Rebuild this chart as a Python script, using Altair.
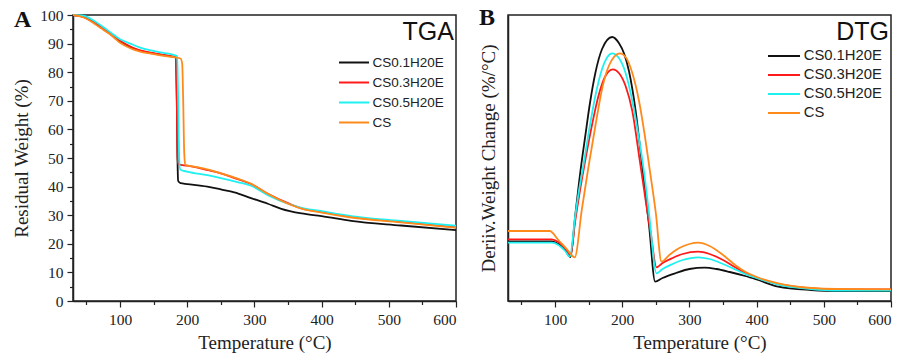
import altair as alt
import pandas as pd

series = ["CS0.1H20E", "CS0.3H20E", "CS0.5H20E", "CS"]
colors = ["#111111", "#ff1a1a", "#1ff0f0", "#ff8a1c"]

# ---- TGA (Residual weight %) ----
tga_t_01 = [30, 45, 57, 70, 86.5, 100, 116, 130, 146, 160, 176, 183, 184.5, 185.5, 186.5, 190, 200, 230, 250, 270, 295, 320, 340, 370, 400, 444, 518, 600]
tga_w_01 = [100, 99.4, 98, 96, 93.2, 90.8, 88.7, 87.5, 86.7, 86.1, 85.5, 85.1, 70, 50, 42, 41.2, 40.9, 40, 39, 38, 36, 34, 32.2, 30.6, 29.7, 28, 26.4, 24.8]
tga_t_03 = [30, 45, 57, 70, 86.5, 100, 116, 130, 146, 160, 176, 183, 184.5, 185.5, 187, 200, 230, 250, 275, 295, 320, 350, 370, 400, 444, 518, 600]
tga_w_03 = [100, 99.4, 98, 96, 93.3, 91, 88.9, 87.6, 86.8, 86.2, 85.6, 85.1, 70, 50, 47.8, 47.3, 45.8, 44.6, 42.6, 40.9, 37.5, 34.2, 32.4, 31.2, 29.4, 27.7, 25.8]
tga_t_05 = [30, 45, 57, 70, 86.5, 100, 116, 130, 146, 160, 176, 185, 186.5, 188, 189.5, 200, 230, 250, 275, 295, 320, 350, 370, 400, 444, 518, 600]
tga_w_05 = [100, 99.8, 98.6, 96.6, 93.8, 91.5, 89.9, 88.6, 87.6, 86.9, 86.3, 85.6, 70, 50, 46, 45.2, 44, 43, 41.6, 40.3, 37, 34, 32.6, 31.4, 29.7, 28, 26.3]
tga_t_cs = [30, 45, 57, 70, 86.5, 100, 116, 130, 146, 160, 176, 190, 192.5, 194, 195.5, 197, 210, 230, 250, 275, 295, 320, 350, 370, 400, 444, 518, 600]
tga_w_cs = [100, 99.2, 97.7, 95.6, 93, 90.3, 88.3, 87.2, 86.5, 85.9, 85.4, 84.8, 83, 70, 52, 47.6, 47, 46, 44.6, 42.8, 41, 37.5, 34, 32.3, 30.9, 29.2, 27.5, 25.6]

# ---- DTG (arbitrary units) ----
dtg_t_01 = [30, 95, 105, 115, 123, 130, 138, 145, 152, 160, 170, 185, 195, 203, 210, 220, 228, 240, 249, 260, 280, 300, 323, 340, 360, 383, 400, 432, 481, 520, 600]
dtg_v_01 = [59.7, 59.7, 57, 51, 44, 85, 131, 165, 198, 228, 252, 264, 258, 247, 230, 190, 145, 75, 19.3, 23, 28, 32, 33.3, 32, 29, 25, 21.5, 14.3, 11, 10, 10]
dtg_t_03 = [30, 95, 105, 115, 123, 130, 137, 144, 155, 165, 175, 186, 195, 205, 215, 226, 235, 243, 251, 260, 275, 290, 313, 330, 350, 370, 383, 400, 432, 481, 520, 600]
dtg_v_03 = [61.7, 61.7, 59, 53, 46, 80, 110, 137, 176, 206, 225, 231.7, 228, 215, 190, 141, 100, 65, 33.7, 38, 43, 47, 49.3, 47, 41, 33, 28.3, 23.5, 17, 12.5, 11.5, 11.7]
dtg_t_05 = [30, 95, 105, 115, 122, 130, 136, 142, 150, 160, 170, 185, 195, 205, 215, 225, 232, 240, 251, 260, 275, 290, 313, 330, 350, 370, 383, 400, 432, 481, 520, 600]
dtg_v_05 = [58.3, 58.3, 56, 50, 44.3, 85, 112, 135, 168, 205, 232, 247.7, 243, 228, 200, 162, 131, 87, 27.7, 32, 37, 41, 43.7, 42, 37, 31, 27, 23, 16.5, 12, 10.5, 10.3]
dtg_t_cs = [30, 92, 105, 118, 129.3, 140, 149, 160, 170, 180, 196.4, 205, 215, 225, 233, 241, 250, 258.4, 270, 285, 300, 313, 330, 350, 370, 383, 400, 432, 481, 520, 600]
dtg_v_cs = [70, 70, 61, 51.5, 43.7, 92, 131, 175, 212, 235, 247.7, 244, 228, 200, 168, 131, 88, 39.3, 46, 53, 57, 58.3, 55, 46, 35, 29.3, 24, 17.7, 13, 12, 11.7]

x_values = [50, 100, 150, 200, 250, 300, 350, 400, 450, 500, 550, 600]
y_values = list(range(0, 101, 5))


def frame(ts, vs):
    rows = []
    for name, t, v in zip(series, ts, vs):
        for a, b in zip(t, v):
            rows.append({"T": a, "V": b, "S": name})
    return pd.DataFrame(rows)


tga_df = frame([tga_t_01, tga_t_03, tga_t_05, tga_t_cs], [tga_w_01, tga_w_03, tga_w_05, tga_w_cs])
dtg_df = frame([dtg_t_01, dtg_t_03, dtg_t_05, dtg_t_cs], [dtg_v_01, dtg_v_03, dtg_v_05, dtg_v_cs])

SERIF = "Liberation Serif"
SANS = "Liberation Sans"
INK = "#222222"

x_axis = alt.Axis(
    values=x_values,
    labelExpr="datum.value % 100 == 0 ? datum.label : ''",
    tickSize={"condition": {"test": "datum.value % 100 == 0", "value": 6}, "value": 3.5},
    labelOverlap=False, labelPadding=5, titlePadding=6, title="Temperature (°C)",
)

W, H = 383, 286

# ---------- panel A ----------
tga_lines = alt.Chart(tga_df).mark_line(strokeWidth=1.8, interpolate="monotone").encode(
    x=alt.X("T:Q", scale=alt.Scale(domain=[30, 600], nice=False, zero=False), axis=x_axis),
    y=alt.Y("V:Q", scale=alt.Scale(domain=[0, 100], nice=False),
            axis=alt.Axis(values=y_values,
                          labelExpr="datum.value % 10 == 0 ? datum.label : ''",
                          tickSize={"condition": {"test": "datum.value % 10 == 0", "value": 6}, "value": 3.5},
                          labelOverlap=False, labelPadding=4, titlePadding=8,
                          title="Residual Weight (%)")),
    color=alt.Color("S:N", scale=alt.Scale(domain=series, range=colors), sort=series,
                    legend=alt.Legend(orient="none", legendX=272.5, legendY=39, title=None,
                                      symbolType="M-2,0H2", symbolSize=225, symbolStrokeWidth=2,
                                      labelFont=SANS, labelFontSize=13.5, labelColor=INK,
                                      labelOffset=10, rowPadding=5, padding=0)),
    detail="S:N",
)

tag_a = alt.Chart(pd.DataFrame({"t": ["TGA"]})).mark_text(
    font=SANS, fontSize=25, align="right", baseline="alphabetic", color="#111"
).encode(text="t:N", x=alt.value(381), y=alt.value(25))

letter_a = alt.Chart(pd.DataFrame({"t": ["A"]})).mark_text(
    font=SERIF, fontSize=24, fontWeight="bold", align="left", baseline="alphabetic", color="#111"
).encode(text="t:N", x=alt.value(-59), y=alt.value(12))

panel_a = alt.layer(tga_lines, tag_a, letter_a).properties(width=W, height=H)

# ---------- panel B ----------
dtg_lines = alt.Chart(dtg_df).mark_line(strokeWidth=1.8, interpolate="monotone").encode(
    x=alt.X("T:Q", scale=alt.Scale(domain=[30, 600], nice=False, zero=False), axis=x_axis),
    y=alt.Y("V:Q", scale=alt.Scale(domain=[0, 286], nice=False),
            axis=alt.Axis(ticks=False, labels=False, titlePadding=10,
                          title="Deriiv.Weight Change (%/°C)")),
    color=alt.Color("S:N", scale=alt.Scale(domain=series, range=colors), sort=series,
                    legend=alt.Legend(orient="none", legendX=267, legendY=32, title=None,
                                      symbolType="M-2,0H2", symbolSize=256, symbolStrokeWidth=2,
                                      labelFont=SANS, labelFontSize=14.8, labelColor=INK,
                                      labelOffset=10.7, rowPadding=3, padding=0)),
    detail="S:N",
)

tag_b = alt.Chart(pd.DataFrame({"t": ["DTG"]})).mark_text(
    font=SANS, fontSize=25, align="right", baseline="alphabetic", color="#111"
).encode(text="t:N", x=alt.value(381), y=alt.value(25))

letter_b = alt.Chart(pd.DataFrame({"t": ["B"]})).mark_text(
    font=SERIF, fontSize=24, fontWeight="bold", align="left", baseline="alphabetic", color="#111"
).encode(text="t:N", x=alt.value(-29), y=alt.value(10))

panel_b = alt.layer(dtg_lines, tag_b, letter_b).properties(width=W, height=H)

chart = alt.hconcat(panel_a, panel_b, spacing=17).resolve_scale(
    color="independent"
).resolve_legend(color="independent").properties(
    padding={"left": 12, "top": 5, "right": 0, "bottom": 0},
    background="white",
).configure_view(
    stroke=INK, strokeWidth=1.5
).configure_axis(
    grid=False,
    domainColor=INK, domainWidth=1.5,
    tickColor=INK, tickWidth=1.2,
    labelFont=SERIF, labelFontSize=15.5, labelColor=INK,
    titleFont=SERIF, titleFontSize=19, titleFontWeight="normal", titleColor=INK,
)

chart.save("out.html", embed_options={"renderer": "svg", "actions": False})
